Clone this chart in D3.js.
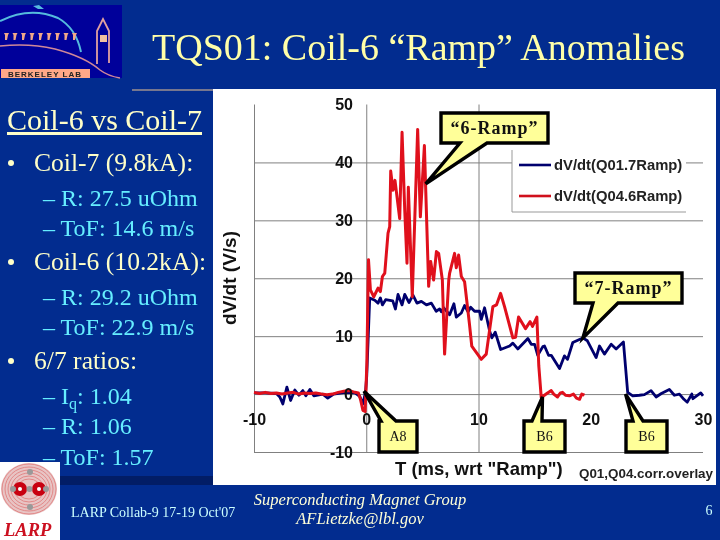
<!DOCTYPE html>
<html>
<head>
<meta charset="utf-8">
<script src="https://cdnjs.cloudflare.com/ajax/libs/d3/7.8.5/d3.min.js"></script>
<style>
  html, body { margin: 0; padding: 0; background: #022c8f; }
  svg { display: block; filter: blur(0.35px); }
</style>
</head>
<body>
<svg id="slide"></svg>
<script>
// chart values
const xTicks = [-10, 0, 10, 20, 30];
const yTicks = [50, 40, 30, 20, 10, 0, -10];
const xGrid = [-10, 0, 10];
const yGrid = [40, 30, 20, 10, 0, -10];

const coil7T = [-10, -9, -8, -7.7, -7.43, -7.07, -6.74, -6.36, -6, -5.65, -5.38, -5.02, -4.67, -3.87, -3.43, -2.9, -1.9, -1, -.58, -.3, -.07, .04,
  .31, .76, 1.05, 1.26, 1.44, 1.73, 2.36, 2.6, 2.83, 3.19, 3.43, 3.81, 4.16, 4.52, 4.91, 5.36, 5.8, 6.23, 6.54, 6.69, 6.9, 7.43, 7.81, 8.02, 8.47, 8.76, 9.07, 9.3, 9.65, 10.1, 10.25, 10.54,
  10.99, 11.19, 11.49, 11.97, 12.77, 13.06, 13.5, 14.4, 14.7, 15, 15.28, 15.73, 15.88, 16.24, 16.48, 17.22, 17.66, 17.93, 18.4, 19.29, 19.7, 20.48, 20.78, 21.22, 21.82, 22.26, 22.91,
  23.29, 23.74, 24.33, 24.78, 25.37, 25.82, 26.29, 27, 27.45, 27.9, 28.3, 28.6, 29, 29.1, 29.8, 30];
const coil7V = [.2, .2, .1, -.5, -1.7, 1.2, -1.1, .7, -.2, .6, -.3, .8, -.3, 0, -.7, 0, .3, .2, -.4, -1.7, .3, 3,
  16.6, 16.2, 15.7, 16.6, 15.4, 16.3, 16.1, 14.7, 17.2, 15.4, 17.2, 15.8, 17.1, 15.7, 16, 15.4, 15.7, 14.3, 14.7, 14.2, 14.9, 13.7, 15.6, 13.3, 14, 15.3, 14.2, 15, 14.3, 14.3, 12.9, 14.9,
  10.9, 9.7, 10.7, 7.7, 8.3, 8.8, 7.8, 9.6, 8.6, 8.6, 6.7, 8.2, 8.3, 6.7, 6.7, 4.4, 6.6, 6, 8.9, 9.7, 9.2, 6.3, 8.3, 6.9, 8.6, 7.8, 9,
  .3, -.3, -.2, -.1, .6, -.5, .1, .8, -.2, 0, -.9, -1.4, 0, -.8, .2, -.3];

const coil6T = [-10, -9.5, -9, -8.5, -8, -7.5, -7, -6.5, -6, -5.5, -5, -4.5, -4, -3.5, -3, -2.5, -2, -1.5, -1, -.7, -.5, -.3, -.1, .05,
  .2, .37, .67, 1.05, 1.26, 1.44, 1.65, 1.94, 2.09, 2.18, 2.38, 2.56, 2.98, 3.19, 3.43, 3.63, 3.75, 4.1, 4.58, 4.82, 5.18, 5.56, 5.74, 6, 6.25, 6.45, 6.78, 6.98, 7.35, 7.43, 7.87, 8.02, 8.23, 8.47, 8.76, 9.2, 9.4,
  10.25, 10.69, 11.28, 11.6, 11.97, 12.32, 13.06, 13.3, 13.57, 14.19, 14.6, 14.81, 15.2, 15.37, 15.59,
  16.15, 16.48, 16.7, 17.04, 17.3, 17.48, 17.75, 18.1, 18.46, 18.73, 19, 19.2, 19.44];
const coil6V = [.3, .1, .3, .1, .2, 0, .2, .3, 0, .2, .1, .2, 0, -.1, 0, .3, .5, .6, .3, .2, -1, -2.8, -3, 5,
  23.2, 18, 16.8, 18.3, 17.7, 20.3, 20.9, 27.8, 28.9, 38.5, 35.2, 36.9, 30.3, 45.2, 31.7, 22.6, 35.7, 16.8, 45.7, 30.6, 42.9, 18.6, 22.9, 19.7, 24.6, 24.3, 19.7, 6.9, 19.7, 20.9, 24.3, 21.8, 24, 20.3, 19.4, 12, 8.3,
  6, 6.9, 15.1, 15.4, 17.4, 15.1, 9.7, 9.8, 13.3, 11.3, 12.5, 11.7, 13.3, 4.9, -.6,
  .2, .6, 0, -.5, .2, .3, -.2, -.3, 0, -.7, -.9, 0, -.2];

const legendNames = ["dV/dt(Q01.7Ramp)", "dV/dt(Q04.6Ramp)"];

// slide text
const bulletLines = [
  { text: "Coil-7 (9.8kA):", lvl: 0, base: 171 },
  { text: "– R: 27.5 uOhm", lvl: 1, base: 206 },
  { text: "– ToF: 14.6 m/s", lvl: 1, base: 236 },
  { text: "Coil-6 (10.2kA):", lvl: 0, base: 270 },
  { text: "– R: 29.2 uOhm", lvl: 1, base: 305 },
  { text: "– ToF: 22.9 m/s", lvl: 1, base: 335 },
  { text: "6/7 ratios:", lvl: 0, base: 369 },
  { text: "– R: 1.06", lvl: 1, base: 434 },
  { text: "– ToF: 1.57", lvl: 1, base: 465 }
];

const serif = "'Liberation Serif', serif";
const sans = "'Liberation Sans', Arial, sans-serif";
const tickFormat = d => String(d); // plain hyphen on the negatives

const svg = d3.select("#slide").attr("width", 720).attr("height", 540);

svg.append("rect").attr("width", 720).attr("height", 540).attr("fill", "#022c8f");

// white panel with the dark band under the left column
svg.append("rect").attr("x", 60).attr("y", 476).attr("width", 153).attr("height", 9).attr("fill", "#021d66");
svg.append("rect").attr("x", 132).attr("y", 89).attr("width", 81).attr("height", 2).attr("fill", "#77778f");
svg.append("rect").attr("x", 213).attr("y", 89).attr("width", 503).attr("height", 396).attr("fill", "#ffffff");

drawBerkeleyLogo();
drawLarpLogo();

svg.append("text")
  .attr("x", 152).attr("y", 60)
  .attr("font-family", serif).attr("font-size", 38)
  .attr("fill", "#ffffa8")
  .text("TQS01: Coil-6 “Ramp” Anomalies");

svg.append("text")
  .attr("x", 7).attr("y", 130)
  .attr("font-family", serif).attr("font-size", 30)
  .attr("fill", "#ffffc8")
  .attr("text-decoration", "underline")
  .text("Coil-6 vs Coil-7");

svg.selectAll("text.line")
  .data(bulletLines)
  .join("text")
  .attr("class", "line")
  .attr("x", d => d.lvl ? 43 : 34)
  .attr("y", d => d.base)
  .attr("font-family", serif)
  .attr("font-size", d => d.lvl ? 24 : 25.6)
  .attr("fill", d => d.lvl ? "#66eeff" : "#ffffc8")
  .text(d => d.text);

svg.selectAll("circle.bullet")
  .data(bulletLines.filter(d => !d.lvl))
  .join("circle")
  .attr("class", "bullet")
  .attr("cx", 11)
  .attr("cy", d => d.base - 8)
  .attr("r", 3)
  .attr("fill", "#ffffc8");

// I with a subscript q
const iq = svg.append("text")
  .attr("x", 43).attr("y", 404)
  .attr("font-family", serif).attr("font-size", 24)
  .attr("fill", "#66eeff");
iq.append("tspan").text("– I");
iq.append("tspan").attr("dy", 5).attr("font-size", 16).text("q");
iq.append("tspan").attr("dy", -5).text(": 1.04");

// footer
svg.append("text")
  .attr("x", 71).attr("y", 517)
  .attr("font-family", serif).attr("font-size", 14)
  .attr("fill", "#ccffff")
  .text("LARP Collab-9 17-19 Oct'07");

svg.selectAll("text.foot")
  .data([["Superconducting Magnet Group", 505], ["AFLietzke@lbl.gov", 524]])
  .join("text")
  .attr("class", "foot")
  .attr("x", 360)
  .attr("y", d => d[1])
  .attr("text-anchor", "middle")
  .attr("font-family", serif)
  .attr("font-style", "italic")
  .attr("font-size", 16.5)
  .attr("fill", "#ffffd8")
  .text(d => d[0]);

svg.append("text")
  .attr("x", 709).attr("y", 515)
  .attr("text-anchor", "middle")
  .attr("font-family", serif).attr("font-size", 14)
  .attr("fill", "#ccffff")
  .text("6");

// chart
const x = d3.scaleLinear().domain([-10, 30]).range([254, 703]);
const y = d3.scaleLinear().domain([50, -10]).range([104.5, 452]);

// grid lines
svg.append("g")
  .attr("transform", `translate(${x(-10)},0)`)
  .call(d3.axisLeft(y).tickValues(yGrid).tickSize(-(x(30) - x(-10))).tickFormat(""))
  .call(g => g.select(".domain").remove())
  .call(g => g.selectAll("line").attr("stroke", "#808080"));

svg.append("g")
  .attr("transform", `translate(0,${y(-10)})`)
  .call(d3.axisBottom(x).tickValues(xGrid).tickSize(-(y(-10) - y(50))).tickFormat(""))
  .call(g => g.select(".domain").remove())
  .call(g => g.selectAll("line").attr("stroke", "#808080"));

// legend box sits on top of the grid
svg.append("rect").attr("x", 512).attr("y", 150).attr("width", 174).attr("height", 62).attr("fill", "#ffffff");
svg.append("path").attr("d", "M512,150V212H686").attr("fill", "none").attr("stroke", "#999999");

const line = d3.line().x(d => x(d[0])).y(d => y(d[1]));

svg.append("path")
  .datum(coil7T.map((t, i) => [t, coil7V[i]]))
  .attr("d", line)
  .attr("fill", "none")
  .attr("stroke", "#00006e")
  .attr("stroke-width", 2.8)
  .attr("stroke-linejoin", "round");

svg.append("path")
  .datum(coil6T.map((t, i) => [t, coil6V[i]]))
  .attr("d", line)
  .attr("fill", "none")
  .attr("stroke", "#e0101c")
  .attr("stroke-width", 3)
  .attr("stroke-linejoin", "round");

// tick labels
svg.append("g")
  .attr("transform", `translate(353,0)`)
  .call(d3.axisLeft(y).tickValues(yTicks).tickSize(0).tickPadding(0).tickFormat(tickFormat))
  .call(g => g.select(".domain").remove())
  .call(g => g.selectAll("text")
    .attr("font-family", sans).attr("font-size", 16).attr("font-weight", "bold").attr("fill", "#111"));

svg.append("g")
  .attr("transform", "translate(0,414)")
  .call(d3.axisBottom(x).tickValues(xTicks).tickSize(0).tickPadding(0).tickFormat(tickFormat))
  .call(g => g.select(".domain").remove())
  .call(g => g.selectAll("text")
    .attr("font-family", sans).attr("font-size", 16).attr("font-weight", "bold").attr("fill", "#111"));

// axis titles
svg.append("text")
  .attr("transform", "translate(236,278) rotate(-90)")
  .attr("text-anchor", "middle")
  .attr("font-family", sans).attr("font-size", 19).attr("font-weight", "bold")
  .attr("fill", "#111")
  .text("dV/dt (V/s)");

svg.append("text")
  .attr("x", 395).attr("y", 475)
  .attr("font-family", sans).attr("font-size", 18.5).attr("font-weight", "bold")
  .attr("fill", "#111")
  .text("T (ms, wrt \"Ramp\")");

svg.append("text")
  .attr("x", 579).attr("y", 478)
  .attr("font-family", sans).attr("font-size", 13.4).attr("font-weight", "bold")
  .attr("fill", "#222")
  .text("Q01,Q04.corr.overlay");

// legend entries
const legendColors = ["#00006e", "#d0101c"];
const legendY = [165, 196];
legendNames.forEach((name, i) => {
  svg.append("line")
    .attr("x1", 519).attr("x2", 551)
    .attr("y1", legendY[i]).attr("y2", legendY[i])
    .attr("stroke", legendColors[i]).attr("stroke-width", 2.6);
  svg.append("text")
    .attr("x", 554).attr("y", legendY[i] + 5)
    .attr("font-family", sans).attr("font-size", 14.8).attr("font-weight", "bold")
    .attr("fill", "#222")
    .text(name);
});

// callouts, tips point at the curves
const callouts = [
  { text: "“6-Ramp”", box: [441, 113, 107, 30], base: [460, 487], tip: [5.3, 36.3], size: 18 },
  { text: "“7-Ramp”", box: [575, 273, 107, 30], base: [593, 618], tip: [19.3, 9.7], size: 18 },
  { text: "A8", box: [379, 421, 38, 31], base: [381, 396], tip: [-0.2, 0.5], size: 14 },
  { text: "B6", box: [524, 421, 41, 31], base: [532, 542], tip: [15.7, -0.5], size: 14 },
  { text: "B6", box: [626, 421, 41, 31], base: [633, 643], tip: [23.1, 0], size: 14 }
];

callouts.forEach(c => {
  const [bx, by, bw, bh] = c.box;
  const tx = x(c.tip[0]), ty = y(c.tip[1]);
  // tail leaves from the top or the bottom edge, depending on where the tip is
  const outline = ty < by
    ? `M${bx},${by}H${c.base[0]}L${tx},${ty}L${c.base[1]},${by}H${bx + bw}V${by + bh}H${bx}Z`
    : `M${bx},${by}H${bx + bw}V${by + bh}H${c.base[1]}L${tx},${ty}L${c.base[0]},${by + bh}H${bx}Z`;
  svg.append("path")
    .attr("d", outline)
    .attr("fill", "#ffff99")
    .attr("stroke", "#000")
    .attr("stroke-width", 3.4)
    .attr("stroke-linejoin", "miter");
  svg.append("text")
    .attr("x", bx + bw / 2).attr("y", by + bh / 2 + c.size * 0.34)
    .attr("text-anchor", "middle")
    .attr("font-family", serif).attr("font-size", c.size).attr("font-weight", c.size > 14 ? "bold" : "normal")
    .attr("letter-spacing", c.size > 14 ? 1 : 0)
    .attr("fill", "#111")
    .text(c.text);
});

function drawBerkeleyLogo() {
  const g = svg.append("g");
  g.append("rect").attr("x", 0).attr("y", 5).attr("width", 122).attr("height", 73).attr("fill", "#00009a");
  g.append("path").attr("d", "M0,21Q30,6 58,18Q76,28 81,52").attr("fill", "none").attr("stroke", "#55bbdd").attr("stroke-width", 2);
  g.append("path").attr("d", "M33,6L39,5L44,9L38,9Z").attr("fill", "#55bbdd");
  g.selectAll("path.win")
    .data(d3.range(9))
    .join("path")
    .attr("class", "win")
    .attr("d", i => `M${4 + i * 8.5},33h5l-1,2l-1,5h-2l0,-5Z`)
    .attr("fill", "#f0a888");
  g.append("path").attr("d", "M0,46Q30,43 55,49Q85,57 100,70Q108,76 120,78").attr("fill", "none").attr("stroke", "#d08898").attr("stroke-width", 1.5);
  g.append("path").attr("d", "M97,64V31L103,19L109,31V63").attr("fill", "none").attr("stroke", "#e0a0a0").attr("stroke-width", 1.8);
  g.append("rect").attr("x", 100).attr("y", 35).attr("width", 7).attr("height", 7).attr("fill", "#f0c0a0");
  g.append("rect").attr("x", 1).attr("y", 69).attr("width", 89).attr("height", 9).attr("fill", "#ffa888");
  g.append("text").attr("x", 45).attr("y", 77).attr("text-anchor", "middle")
    .attr("font-family", sans).attr("font-size", 8).attr("font-weight", "bold").attr("letter-spacing", 1)
    .attr("fill", "#222").text("BERKELEY LAB");
}

function drawLarpLogo() {
  const g = svg.append("g");
  g.append("rect").attr("x", 0).attr("y", 462).attr("width", 60).attr("height", 78).attr("fill", "#ffffff");
  g.append("ellipse").attr("cx", 29).attr("cy", 489).attr("rx", 28).attr("ry", 26).attr("fill", "#e8c4c4");
  g.selectAll("ellipse.ring")
    .data([25, 22, 19, 16, 13, 10])
    .join("ellipse")
    .attr("class", "ring")
    .attr("cx", 29).attr("cy", 489)
    .attr("rx", d => d + 2).attr("ry", d => d)
    .attr("fill", "none").attr("stroke", "#e07878").attr("stroke-width", 0.8);
  [20, 39].forEach(cx => {
    g.append("circle").attr("cx", cx).attr("cy", 489).attr("r", 7).attr("fill", "#c80010");
    g.append("circle").attr("cx", cx).attr("cy", 489).attr("r", 2).attr("fill", "#ffffff");
  });
  [[13, 489], [29.5, 489], [46, 489], [30, 472], [30, 507]].forEach(p => {
    g.append("circle").attr("cx", p[0]).attr("cy", p[1]).attr("r", 3).attr("fill", "#999");
  });
  g.append("text").attr("x", 4).attr("y", 536)
    .attr("font-family", serif).attr("font-size", 18.5).attr("font-weight", "bold").attr("font-style", "italic")
    .attr("fill", "#cc1020").text("LARP");
}
</script>
</body>
</html>
